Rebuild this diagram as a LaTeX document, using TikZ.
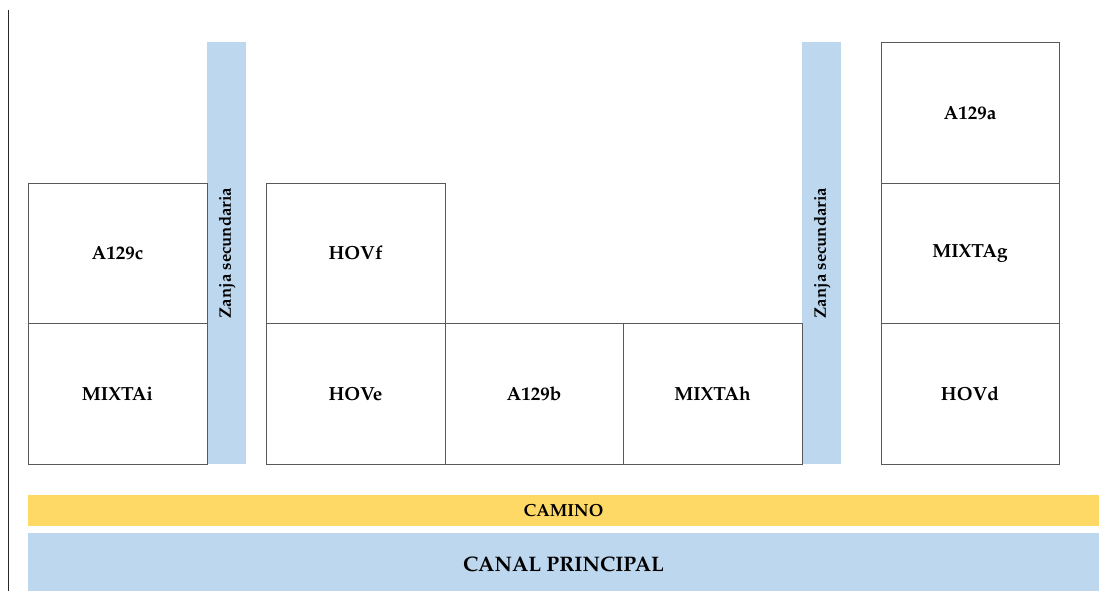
\documentclass[tikz,border=0pt]{standalone}
\usepackage[T1]{fontenc}
\usepackage{mathpazo}
\begin{document}
\begin{tikzpicture}[x=1pt,y=-1pt,
  plot/.style={draw=black!65,line width=0.8pt,fill=white,inner sep=0pt,font=\bfseries\fontsize{19}{22}\selectfont},
  zanja/.style={fill=blueA,draw=none,inner sep=0pt},
  zlabel/.style={rotate=90,font=\bfseries\fontsize{16.7}{19}\selectfont},
  band/.style={draw=none,inner sep=0pt,font=\bfseries}]
\definecolor{blueA}{HTML}{BDD7EE}
\definecolor{yellowA}{HTML}{FFD966}
\useasboundingbox (0,0) rectangle (1113,591);
\draw[line width=1pt,black!85] (8.5,10) -- (8.5,591);
% zanjas
\path[zanja] (207,42) rectangle (246,464);
\path[zanja] (802,42) rectangle (841,464);
\node[zlabel] (z1) at (227,253) {Zanja secundaria};
\node[zlabel] (z2) at (822,253) {Zanja secundaria};
% plots
\node[plot,minimum width=179pt,minimum height=140pt] (a129c) at (117.5,253) {A129c};
\node[plot,minimum width=179pt,minimum height=141pt] (mixtai) at (117.5,393.5) {MIXTAi};
\node[plot,minimum width=179pt,minimum height=140pt] (hovf) at (355.5,253) {HOVf};
\node[plot,minimum width=179pt,minimum height=141pt] (hove) at (355.5,393.5) {HOVe};
\node[plot,minimum width=178pt,minimum height=141pt] (a129b) at (534,393.5) {A129b};
\node[plot,minimum width=179pt,minimum height=141pt] (mixtah) at (712.5,393.5) {MIXTAh};
\node[plot,minimum width=178pt,minimum height=141pt] (a129a) at (970,112.5) {A129a};
\node[plot,minimum width=178pt,minimum height=140pt] (mixtag) at (970,253) {MIXTAg};
\node[plot,minimum width=178pt,minimum height=141pt] (hovd) at (970,393.5) {HOVd};
% bands
\node[band,fill=yellowA,minimum width=1071pt,minimum height=31pt,font=\bfseries\fontsize{17.5}{20}\selectfont] (camino) at (563.5,510.5) {CAMINO};
\path[fill=blueA] (28,533) rectangle (1099,591);
\node[band,font=\bfseries\fontsize{21}{25}\selectfont] (canal) at (563.5,564.5) {CANAL PRINCIPAL};
\end{tikzpicture}
\end{document}
